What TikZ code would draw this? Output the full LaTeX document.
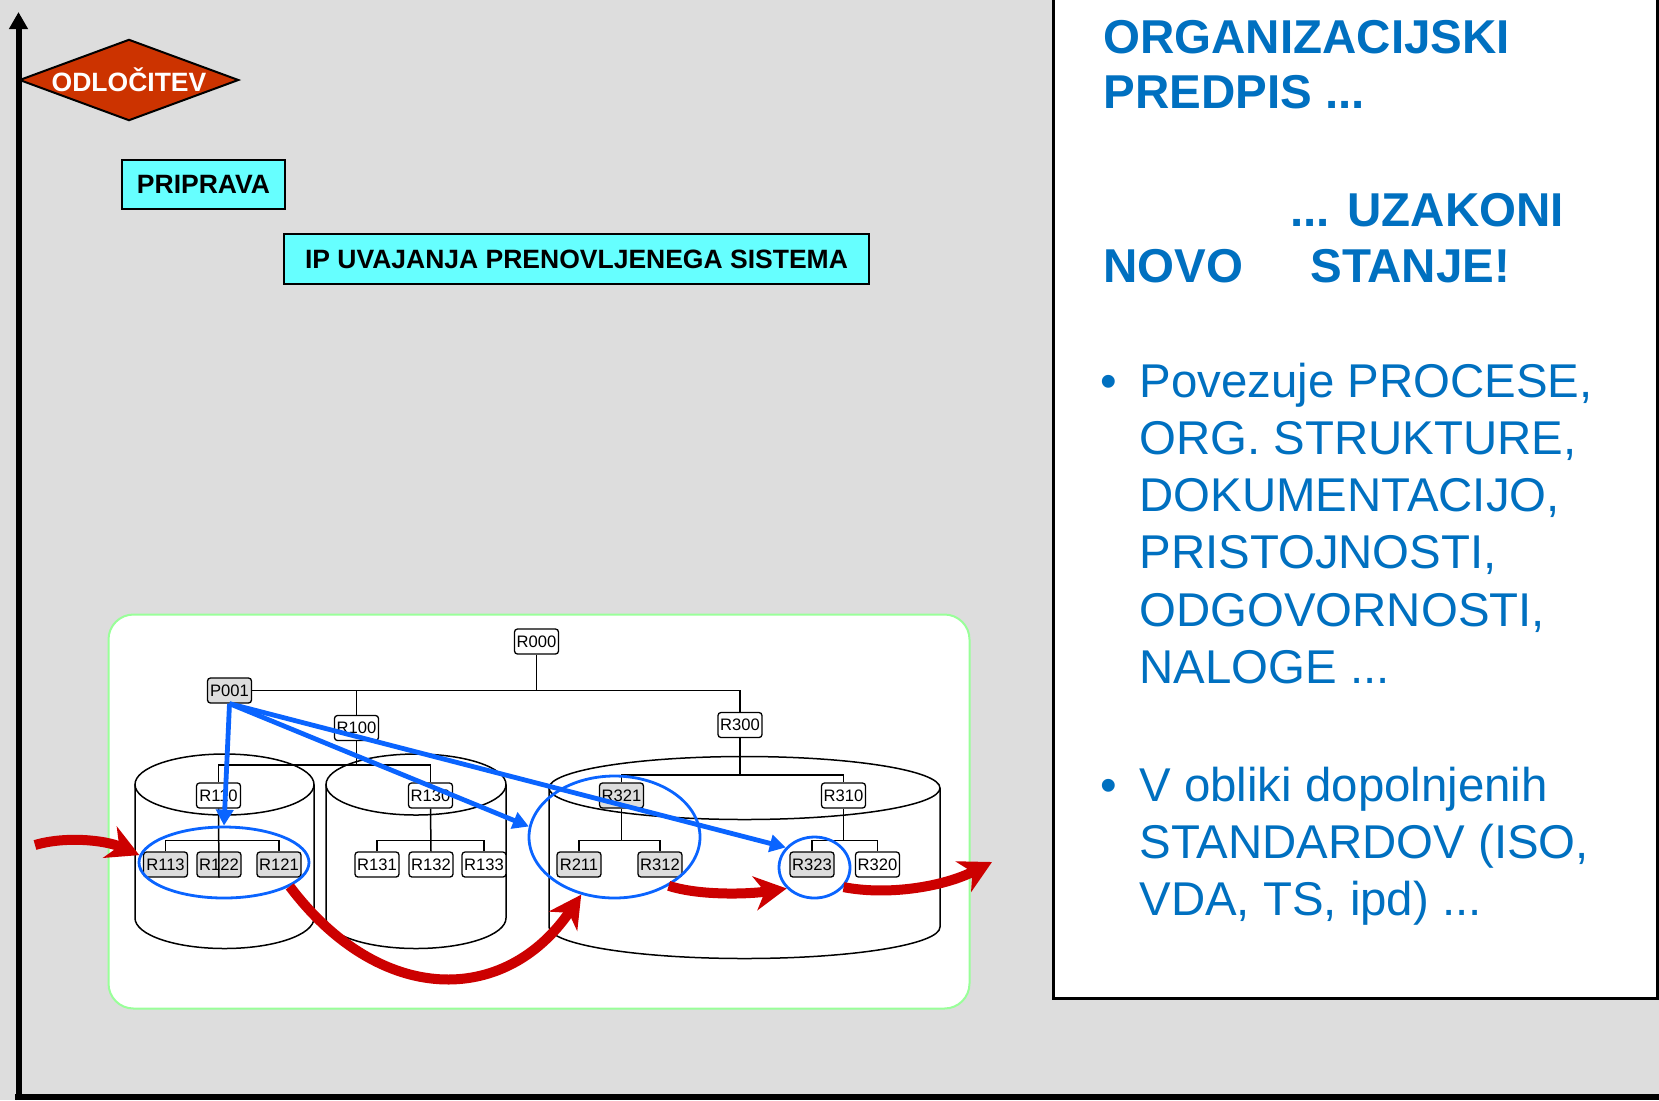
\documentclass[tikz,border=0pt]{standalone}
\usepackage{fontspec}
\setmainfont{Liberation Sans}
\usetikzlibrary{arrows.meta}
\usetikzlibrary{shapes.geometric}
\usetikzlibrary{calc}
\usepackage{xcolor}

\definecolor{bggray}{HTML}{DDDDDD}
\definecolor{unitgray}{HTML}{DDDDDD}
\definecolor{paneltext}{HTML}{0070C0}
\definecolor{decred}{HTML}{CC3300}
\definecolor{phasecyan}{HTML}{66FFFF}
\definecolor{selblue}{HTML}{0A64FF}
\definecolor{flowred}{HTML}{CC0000}
\definecolor{panelgreen}{HTML}{99FF99}

\newcommand\tridots{...}

\begin{document}
\begin{tikzpicture}[x=0.5pt,y=-0.5pt,
    phasebox/.style={draw=black, line width=1pt, fill=phasecyan, inner sep=0pt,
      font=\fontsize{13.25}{15}\selectfont\bfseries},
    orgbox/.style={draw=black, line width=0.65pt, rounded corners=1.5pt, minimum width=22pt,
      minimum height=12.5pt, inner sep=0pt, font=\fontsize{8.3}{9}\selectfont},
    treeline/.style={line width=0.75pt},
    cyl/.style={draw=black, line width=0.75pt, fill=white},
    selring/.style={ellipse, draw=selblue, line width=1.4pt, inner sep=0pt},
    bluearr/.style={draw=selblue, line width=2.4pt, -{Triangle[length=8pt,width=8.5pt]}},
    redarr/.style={draw=flowred, line width=5pt, -{Stealth[length=16pt,width=17pt,inset=5pt]}},
    headtext/.style={anchor=base west, inner sep=0pt, text=paneltext,
      font=\fontsize{23.75}{28}\selectfont\bfseries},
    bodytext/.style={anchor=base west, inner sep=0pt, text=paneltext,
      font=\fontsize{23.7}{28}\selectfont}]

      % Background
      \path[use as bounding box, fill=bggray] (0,0) rectangle (1659,1100);

      % Right panel
      \draw[line width=1.5pt, fill=white] (1053.5,-20) rectangle (1657.5,998.5);

      % Axis
      \draw[line width=3pt] (15,1097) -- (1680,1097);
      \draw[line width=3pt, -{Triangle[length=8.5pt,width=9pt]}] (18.5,1100) -- (18.5,12);

      % Phases
      \node[diamond, draw=black, line width=1pt, fill=decred, aspect=2.7, minimum width=109pt,
        minimum height=40pt, inner sep=0pt, text=white,
        font=\fontsize{13.25}{15}\selectfont\bfseries] (odl) at (129,80) {ODLOČITEV};
      \node[phasebox, minimum width=81.5pt, minimum height=24.5pt] (prip) at (203.5,184.5) {PRIPRAVA};
      \node[phasebox, minimum width=292.5pt, minimum height=25pt] (ipuv) at (576.5,259)
        {IP UVAJANJA PRENOVLJENEGA SISTEMA};

      % Org chart panel
      \draw[draw=panelgreen, line width=1pt, fill=white, rounded corners=12.5pt]
        (108.5,614.5) rectangle (969.5,1008.5);

      % Cylinders
      \foreach \cx/\rx/\yt/\yb/\ry in {224.5/89.5/784.5/918/30.5, 416/90/784.5/918/30.5,
        744.5/195.5/788/927/31.5}
      {
        \draw[cyl] (\cx-\rx,\yt) -- (\cx-\rx,\yb)
          arc[start angle=180, end angle=0, x radius=\rx, y radius=\ry] -- (\cx+\rx,\yt);
        \draw[cyl] (\cx,\yt) ellipse [x radius=\rx, y radius=\ry];
      }

      % Units
      \foreach \name/\x/\y/\fc in {R000/536.5/641.5/white, P001/229.5/690.5/unitgray,
        R100/356.5/728/white, R300/740/725/white, R110/218.5/795.5/white,
        R130/430.5/795.5/white, R321/621.5/795.5/unitgray, R310/843.5/795.5/white,
        R113/165.5/864.5/unitgray, R122/219/864.5/unitgray, R121/279/864.5/unitgray,
        R131/377/864.5/white, R132/431/864.5/white, R133/484/864.5/white,
        R211/579/864.5/unitgray, R312/660/864.5/unitgray, R323/812/864.5/unitgray,
        R320/877.5/864.5/white}
      {
        \node[orgbox, fill=\fc] (\name) at (\x,\y) {\name};
      }

      % Tree
      \draw[treeline] (P001.east) -| (R300.north);
      \draw[treeline] (R000.south) -- (R000.south |- P001.east);
      \draw[treeline] (R100.north) -- (R100.north |- P001.east);
      \coordinate (jR100) at (356.5,765);
      \draw[treeline] (R100.south) -- (jR100);
      \draw[treeline] (R110.north) |- (jR100) -| (R130.north);
      \coordinate (jR300) at (740,775);
      \draw[treeline] (R300.south) -- (jR300);
      \draw[treeline] (R321.north) |- (jR300) -| (R310.north);
      \foreach \up/\lft/\rgt in {R110/R113/R121, R130/R131/R133, R321/R211/R312, R310/R323/R320}
      {
        \coordinate (j\up) at ($(\up.south)+(0,32)$);
        \draw[treeline] (\up.south) -- (j\up);
        \draw[treeline] (\lft.north) |- (j\up) -| (\rgt.north);
      }
      \draw[treeline] (R110.south) -- (R122.south);
      \draw[treeline] (R130.south) -- (R132.north);

      % Selections
      \node[selring, minimum width=85pt, minimum height=35.5pt] (sel1) at (224,862.5) {};
      \node[selring, minimum width=85.5pt, minimum height=61pt] (sel2) at (614.5,837) {};
      \node[selring, minimum width=35.5pt, minimum height=30.5pt] (sel3) at (814.5,867.5) {};

      % Links from P001
      \draw[bluearr] (P001.south) -- (sel1.north);
      \draw[bluearr] (P001.south) -- (sel2.173);
      \draw[bluearr] (P001.south) -- (sel3.145);

      % Flow
      \coordinate (entry) at (35,845);
      \coordinate (exit) at (992,862);
      \draw[redarr] (entry) .. controls (65,836) and (105,840) .. (sel1.175);
      \draw[redarr] (sel1.-20) .. controls (380,1006) and (505,1006) .. (sel2.-120);
      \draw[redarr] (sel2.-42) .. controls (700,896) and (750,894) .. (sel3.-143);
      \draw[redarr] (sel3.-34) .. controls (890,896) and (945,886) .. (exit);

      % Panel text
      \node[headtext] (h1) at (1103,53) {ORGANIZACIJSKI};
      \node[headtext] (h2) at (1103,108) {PREDPIS \tridots};
      \node[headtext] (h3) at (1290,226) {\tridots{} UZAKONI};
      \node[headtext] (h4) at (1103,282) {NOVO};
      \node[headtext] (h5) at (1310,282) {STANJE!};

      \node[bodytext] (dot1) at (1100,397) {•};
      \foreach \txt [count=\i from 0] in {{Povezuje PROCESE,}, {ORG. STRUKTURE,},
        {DOKUMENTACIJO,}, {PRISTOJNOSTI,}, {ODGOVORNOSTI,}, {NALOGE \tridots}}
      {
        \node[bodytext] (a\i) at (1139,397+57.3*\i) {\txt};
      }
      \node[bodytext] (dot2) at (1100,801) {•};
      \foreach \txt [count=\i from 0] in {{V obliki dopolnjenih}, {STANDARDOV (ISO,},
        {VDA, TS, ipd) \tridots}}
      {
        \node[bodytext] (b\i) at (1139,801+57.3*\i) {\txt};
      }

  \end{tikzpicture}
\end{document}
